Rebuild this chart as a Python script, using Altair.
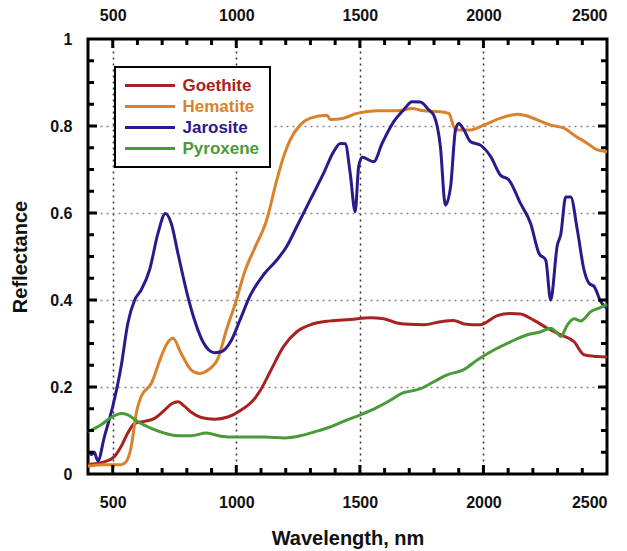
import altair as alt
import pandas as pd

names = ["Goethite", "Hematite", "Jarosite", "Pyroxene"]
colors = ["#a62320", "#d9822b", "#2b1a8c", "#4b9a3a"]

goethite_wl = [400, 466, 507, 534, 561, 588, 629, 669, 710, 740, 764, 790, 818, 858, 912, 966, 1020, 1075,
               1100, 1137, 1191, 1245, 1299, 1380, 1461, 1542, 1596, 1650, 1700, 1758, 1826, 1880, 1921,
               1988, 2015, 2056, 2110, 2150, 2205, 2259, 2313, 2367, 2407, 2461, 2500]
goethite_r = [0.022, 0.028, 0.040, 0.063, 0.094, 0.116, 0.121, 0.128, 0.147, 0.162, 0.166, 0.156, 0.142,
              0.130, 0.126, 0.131, 0.147, 0.174, 0.195, 0.235, 0.293, 0.327, 0.343, 0.352, 0.355, 0.359,
              0.357, 0.347, 0.344, 0.343, 0.350, 0.353, 0.345, 0.343, 0.350, 0.364, 0.369, 0.368, 0.353,
              0.335, 0.320, 0.304, 0.274, 0.270, 0.269]

hematite_wl = [400, 466, 534, 554, 575, 585, 595, 615, 656, 696, 720, 744, 777, 818, 852, 885, 926, 960,
               1000, 1034, 1075, 1123, 1164, 1191, 1218, 1258, 1299, 1367, 1380, 1434, 1488, 1569, 1650,
               1711, 1758, 1826, 1860, 1880, 1894, 1948, 2002, 2069, 2137, 2178, 2218, 2272, 2326, 2367,
               2421, 2461, 2500]
hematite_r = [0.018, 0.021, 0.021, 0.028, 0.063, 0.100, 0.139, 0.178, 0.208, 0.270, 0.300, 0.312, 0.277,
              0.239, 0.231, 0.239, 0.266, 0.331, 0.399, 0.465, 0.520, 0.584, 0.676, 0.729, 0.768, 0.802,
              0.818, 0.825, 0.815, 0.818, 0.829, 0.835, 0.835, 0.840, 0.835, 0.833, 0.829, 0.798, 0.791,
              0.791, 0.802, 0.818, 0.827, 0.823, 0.814, 0.802, 0.795, 0.779, 0.760, 0.745, 0.741]

jarosite_wl = [400, 415, 425, 440, 466, 500, 534, 561, 588, 615, 649, 683, 713, 737, 764, 804, 831, 865,
               912, 939, 978, 1015, 1056, 1110, 1164, 1204, 1245, 1299, 1353, 1394, 1421, 1441, 1461, 1481,
               1495, 1509, 1556, 1590, 1637, 1677, 1711, 1745, 1779, 1799, 1826, 1846, 1867, 1887, 1900,
               1921, 1948, 1988, 2029, 2069, 2103, 2150, 2191, 2225, 2252, 2272, 2299, 2313, 2333, 2353,
               2380, 2407, 2428, 2448, 2475, 2500]
jarosite_r = [0.050, 0.045, 0.050, 0.030, 0.085, 0.155, 0.247, 0.346, 0.399, 0.423, 0.469, 0.553, 0.599,
              0.576, 0.507, 0.408, 0.354, 0.304, 0.279, 0.281, 0.305, 0.354, 0.410, 0.458, 0.492, 0.523,
              0.569, 0.630, 0.691, 0.741, 0.760, 0.759, 0.691, 0.603, 0.706, 0.728, 0.718, 0.760, 0.810,
              0.837, 0.856, 0.855, 0.837, 0.825, 0.752, 0.618, 0.660, 0.791, 0.806, 0.791, 0.764, 0.756,
              0.730, 0.687, 0.676, 0.622, 0.576, 0.507, 0.492, 0.400, 0.526, 0.551, 0.637, 0.637, 0.561,
              0.469, 0.438, 0.431, 0.396, 0.381]

pyroxene_wl = [400, 453, 493, 534, 561, 602, 656, 710, 764, 818, 879, 939, 993, 1048, 1115, 1196, 1260,
               1318, 1380, 1446, 1502, 1570, 1637, 1664, 1745, 1799, 1853, 1921, 1975, 2042, 2110, 2178,
               2232, 2272, 2295, 2313, 2340, 2367, 2394, 2434, 2475, 2500]
pyroxene_r = [0.097, 0.113, 0.130, 0.139, 0.136, 0.120, 0.105, 0.094, 0.088, 0.088, 0.094, 0.087, 0.085,
              0.085, 0.085, 0.083, 0.088, 0.097, 0.108, 0.124, 0.136, 0.153, 0.174, 0.184, 0.196, 0.212,
              0.228, 0.240, 0.262, 0.285, 0.304, 0.320, 0.327, 0.335, 0.326, 0.316, 0.343, 0.357, 0.352,
              0.373, 0.383, 0.390]

x_labels = [500, 1000, 1500, 2000, 2500]
x_major = [500, 1000, 1500, 2000]
x_minor = [v for v in range(500, 2500, 100) if v % 500 != 0]
y_labels = [0, 0.2, 0.4, 0.6, 0.8, 1]
y_major = [0.2, 0.4, 0.6, 0.8]
y_minor = [0.05, 0.1, 0.15, 0.25, 0.3, 0.35, 0.45, 0.5, 0.55, 0.65, 0.7, 0.75, 0.85, 0.9, 0.95]

series = [(names[0], goethite_wl, goethite_r), (names[1], hematite_wl, hematite_r),
          (names[2], jarosite_wl, jarosite_r), (names[3], pyroxene_wl, pyroxene_r)]
frames = []
for n, w, r in series:
    frames.append(pd.DataFrame({"mineral": n, "wl": w, "r": r}))
df = pd.concat(frames, ignore_index=True)

W, H = 519, 435
XMIN, XMAX, YMIN, YMAX = 400, 2500, 0, 1
MAJ, MIN = 9, 6  # inward tick lengths in pixels
FONT = "Liberation Sans"
XS = alt.Scale(domain=[XMIN, XMAX], nice=False, zero=False)
YS = alt.Scale(domain=[YMIN, YMAX], nice=False, zero=False)

# inward tick segments (tick length converted from pixels to data units)
dx = (XMAX - XMIN) / W
dy = (YMAX - YMIN) / H
rows = []
for vals, ln in ((x_major, MAJ), (x_minor, MIN)):
    for v in vals:
        rows.append({"tx": v, "tx2": v, "ty": YMIN, "ty2": YMIN + ln * dy})
        rows.append({"tx": v, "tx2": v, "ty": YMAX, "ty2": YMAX - ln * dy})
for vals, ln in ((y_major, MAJ), (y_minor, MIN)):
    for v in vals:
        rows.append({"tx": XMIN, "tx2": XMIN + ln * dx, "ty": v, "ty2": v})
        rows.append({"tx": XMAX, "tx2": XMAX - ln * dx, "ty": v, "ty2": v})
ticks_df = pd.DataFrame(rows)

lab = dict(labelFont=FONT, labelFontSize=16, labelFontWeight="bold", labelColor="#111")
tit = dict(titleFont=FONT, titleFontSize=20, titleFontWeight="bold", titleColor="#111")

label_expr = ("datum.label == 'Goethite' ? '%s' : datum.label == 'Hematite' ? '%s' : "
              "datum.label == 'Jarosite' ? '%s' : '%s'") % tuple(colors)

lines = alt.Chart(df).mark_line(strokeWidth=3, interpolate="monotone").encode(
    x=alt.X("wl:Q", scale=XS, axis=alt.Axis(
        orient="bottom", values=x_labels, format="d", ticks=False, domain=False, grid=True,
        gridColor="#333", gridDash=[2, 4], gridWidth=1.5,
        gridOpacity={"condition": {"test": "datum.value >= 2500", "value": 0}, "value": 1},
        labelPadding=20, title="Wavelength, nm", titlePadding=18, **lab, **tit)),
    y=alt.Y("r:Q", scale=YS, axis=alt.Axis(
        orient="left", values=y_labels, format="~g", ticks=False, domain=False, grid=True,
        gridColor="#888", gridDash=[2, 4], gridWidth=1.5,
        gridOpacity={"condition": {"test": "datum.value <= 0 || datum.value >= 1", "value": 0}, "value": 1},
        labelPadding=16, title="Reflectance", titlePadding=19, **lab, **tit)),
    color=alt.Color("mineral:N", scale=alt.Scale(domain=names, range=colors), legend=alt.Legend(
        title=None, orient="none", legendX=27, legendY=28, padding=10, rowPadding=3,
        symbolType="M-5,0L5,0", symbolSize=100, symbolStrokeWidth=3, symbolOffset=16.5,
        labelOffset=24, labelFont=FONT, labelFontSize=17, labelFontWeight="bold",
        labelColor=alt.ExprRef(label_expr), strokeColor="black", fillColor="white")),
)

top_axis = alt.Chart(df).mark_line(opacity=0).encode(
    x=alt.X("wl:Q", scale=XS, axis=alt.Axis(
        orient="top", values=x_labels, format="d", ticks=False, domain=False,
        grid=False, labelPadding=16, title=None, **lab)),
    y=alt.Y("r:Q", scale=YS, axis=None),
)

ticks = alt.Chart(ticks_df).mark_rule(color="#000000", strokeWidth=3).encode(
    x=alt.X("tx:Q", scale=XS, axis=None), x2="tx2:Q",
    y=alt.Y("ty:Q", scale=YS, axis=None), y2="ty2:Q",
)

chart = alt.layer(lines, top_axis, ticks).resolve_axis(
    x="independent", y="independent"
).properties(
    width=W, height=H,
    autosize=alt.AutoSizeParams(type="none"),
    padding={"left": 80, "top": 31, "right": 12, "bottom": 76},
).configure_view(
    stroke="black", strokeWidth=3
).configure_legend(
    strokeWidth=2
)

chart.save("out.html", embed_options={"renderer": "svg", "actions": False})
